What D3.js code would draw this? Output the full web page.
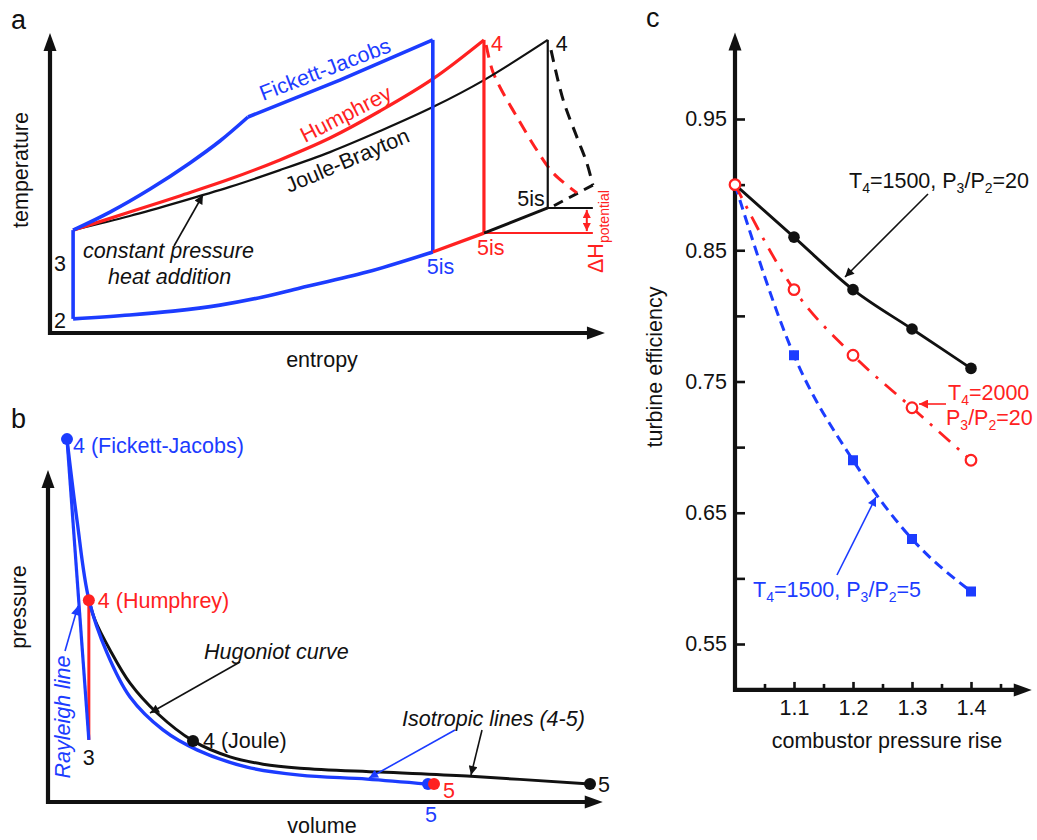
<!DOCTYPE html>
<html>
<head>
<meta charset="utf-8">
<script src="https://cdn.jsdelivr.net/npm/d3@7"></script>
<style>
  html, body { margin: 0; padding: 0; background: #fff; }
  svg { display: block; font-family: "Liberation Sans", Arial, Helvetica, sans-serif; }
</style>
</head>
<body>
<script>
// ---------- panel a: temperature–entropy (arbitrary units) ----------
const tsState2 = [0.42, 0.47];
const tsState3 = [0.42, 3.43];
const tsFickettRise = [[0.42,3.43],[1.09,4.03],[1.82,4.8],[2.545,5.67],[3.09,6.4],[3.6,7.2]];
const tsFickettTop = [[3.6,7.2],[5.27,8.43],[6.96,9.77]];
const tsHumphrey = [[0.42,3.43],[1.45,4.03],[2.36,4.57],[3.27,5.13],[4.18,5.77],[5.09,6.5],[6.0,7.4],[6.96,8.47],[7.89,9.77]];
const tsJoule = [[0.42,3.43],[1.45,3.9],[2.36,4.37],[3.27,4.87],[4.18,5.43],[5.09,6.03],[6.0,6.73],[6.96,7.53],[7.89,8.43],[9.05,9.77]];
const tsRejectFickett = [[0.42,0.47],[1.45,0.6],[2.24,0.73],[3.09,0.93],[3.87,1.2],[4.55,1.5],[5.76,2.03],[6.96,2.7]];
const tsRejectHumphrey = [[6.96,2.7],[7.89,3.33]];
const tsRejectJoule = [[7.89,3.33],[9.05,4.17]];
const tsExpHumphrey = [[7.93,9.6],[8.04,8.77],[8.18,8.2],[8.49,7.2],[8.85,6.1],[9.15,5.33],[9.58,4.67]];
const tsExpJoule = [[9.11,9.43],[9.33,7.77],[9.58,6.53],[9.76,5.67],[9.87,4.93]];
const tsExpJouleEnd = [[9.87,4.93],[9.15,4.23]];
const tsPeakS = [6.96, 7.89, 9.05];      // entropy of state 4: Fickett-Jacobs, Humphrey, Joule
const tsPeakT = 9.77;
const ts5isT = [2.7, 3.33, 4.17];        // temperature of state 5is for each cycle
const tsRefEndS = 9.87;

// ---------- panel b: pressure–volume (arbitrary units) ----------
const pvState3 = [0.74, 1.87];
const pvState4FJ = [0.344, 10.93];
const pvState4H = [0.74, 6.08];
const pvState4J = [2.627, 1.84];
const pvState5FJ = [6.884, 0.54];
const pvState5H = [6.993, 0.54];
const pvState5J = [9.819, 0.54];
const pvIsenFJ = [[0.344,10.93],[0.525,8.49],[0.743,6.08],[1.069,4.49],[1.486,3.16],[2.083,2.17],[2.699,1.57],[3.605,1.05],[4.565,0.81],[5.779,0.69],[6.884,0.54]];
const pvHugoniot = [[0.743,6.08],[0.851,5.48],[1.123,4.58],[1.486,3.58],[1.975,2.68],[2.627,1.84],[3.297,1.36],[3.895,1.14],[4.565,1.02],[6.014,0.90],[7.591,0.78],[9.819,0.54]];

// ---------- panel c: turbine efficiency vs combustor pressure rise ----------
const pressureRise = [1.0, 1.1, 1.2, 1.3, 1.4];
const effT1500PR20 = [0.90, 0.86, 0.82, 0.79, 0.76];
const effT2000PR20 = [0.90, 0.82, 0.77, 0.73, 0.69];
const effT1500PR5  = [0.90, 0.77, 0.69, 0.63, 0.59];
const effTicksMajor = [0.55, 0.65, 0.75, 0.85, 0.95];
const effTicksMinor = [0.60, 0.70, 0.80, 0.90];
const riseTicksMajor = [1.1, 1.2, 1.3, 1.4];
const riseTicksMinor = [1.05, 1.15, 1.25, 1.35, 1.45];

const BLUE = "#1c3cff", RED = "#ff2121", BLACK = "#111";
const FS = 21.5;

const svg = d3.select("body").append("svg").attr("width", 1037).attr("height", 840);

// arrow markers
const defs = svg.append("defs");
function marker(id, color, w, h) {
  defs.append("marker").attr("id", id).attr("viewBox", "0 0 10 10")
    .attr("refX", 10).attr("refY", 5).attr("markerUnits", "userSpaceOnUse")
    .attr("markerWidth", w).attr("markerHeight", h).attr("orient", "auto-start-reverse")
    .append("path").attr("d", "M0,0 L10,5 L0,10 Z").attr("fill", color);
}
marker("arrK", BLACK, 12, 9);
marker("arrB", BLUE, 12, 9);
marker("arrR", RED, 12, 9);
marker("arrRs", RED, 9, 8);

function axisArrow(g, x1, y1, x2, y2) {
  const ang = Math.atan2(y2 - y1, x2 - x1), L = 18, hw = 6.5;
  const bx = x2 - L * Math.cos(ang), by = y2 - L * Math.sin(ang);
  g.append("line").attr("x1", x1).attr("y1", y1).attr("x2", bx + 2 * Math.cos(ang)).attr("y2", by + 2 * Math.sin(ang))
    .attr("stroke", BLACK).attr("stroke-width", 4.2);
  g.append("path").attr("fill", BLACK).attr("d",
    `M${x2},${y2} L${bx - hw * Math.sin(ang)},${by + hw * Math.cos(ang)} L${bx + hw * Math.sin(ang)},${by - hw * Math.cos(ang)} Z`);
}

function label(g, x, y, txt, opts = {}) {
  const t = g.append("text").attr("x", x).attr("y", y).text(txt)
    .attr("fill", opts.color || BLACK).style("font-size", (opts.size || FS) + "px");
  if (opts.anchor) t.attr("text-anchor", opts.anchor);
  if (opts.italic) t.style("font-style", "italic");
  if (opts.rotate !== undefined) t.attr("transform", `rotate(${opts.rotate},${x},${y})`);
  return t;
}

// text with subscripts: parts starting with "_" are subscripts
function subText(g, x, y, parts, color, opts = {}) {
  const size = opts.size || FS, subSize = opts.subSize || 14, shift = opts.shift || 5;
  const t = g.append("text").attr("x", x).attr("y", y).attr("fill", color).style("font-size", size + "px");
  if (opts.rotate !== undefined) t.attr("transform", `rotate(${opts.rotate},${x},${y})`);
  let down = false;
  parts.forEach(p => {
    const isSub = p.startsWith("_");
    const ts = t.append("tspan").text(isSub ? p.slice(1) : p);
    if (isSub) { ts.style("font-size", subSize + "px"); if (!down) { ts.attr("dy", shift); down = true; } }
    else if (down) { ts.attr("dy", -shift); down = false; }
  });
  return t;
}

// ======================= panel a =======================
{
  const g = svg.append("g");
  const sx = d3.scaleLinear().domain([0, 10]).range([50, 600]);
  const sy = d3.scaleLinear().domain([0, 10]).range([333, 33]);
  const smooth = d3.line().x(d => sx(d[0])).y(d => sy(d[1])).curve(d3.curveCatmullRom.alpha(0.5));
  const straight = d3.line().x(d => sx(d[0])).y(d => sy(d[1]));

  axisArrow(g, sx(0), sy(0) + 2, sx(0), sy(10));
  axisArrow(g, sx(0) - 2, sy(0), sx(10.09), sy(0));

  const path = (data, gen, color, w, dash) => {
    const p = g.append("path").attr("d", gen(data)).attr("fill", "none")
      .attr("stroke", color).attr("stroke-width", w).attr("stroke-linejoin", "round");
    if (dash) p.attr("stroke-dasharray", dash);
    return p;
  };

  // dashed real expansions
  path(tsExpJoule, smooth, BLACK, 3, "12,8");
  path(tsExpJouleEnd, straight, BLACK, 3, "10,7");
  path(tsExpHumphrey, smooth, RED, 3, "13,8");

  // reference levels for the potential enthalpy gain
  path([[tsPeakS[2], ts5isT[2]], [tsRefEndS, ts5isT[2]]], straight, BLACK, 2);
  path([[tsPeakS[1], ts5isT[1]], [tsRefEndS, ts5isT[1]]], straight, RED, 2);
  g.append("line").attr("x1", sx(9.76)).attr("x2", sx(9.76))
    .attr("y1", sy(ts5isT[2]) + 2).attr("y2", sy(ts5isT[1]) - 2)
    .attr("stroke", RED).attr("stroke-width", 2)
    .attr("marker-start", "url(#arrRs)").attr("marker-end", "url(#arrRs)");

  // heat addition curves
  path(tsJoule, smooth, BLACK, 2.2);
  path(tsHumphrey, smooth, RED, 3.2);
  path(tsFickettRise, smooth, BLUE, 3.6);
  path(tsFickettTop, straight, BLUE, 3.6);

  // isentropic expansions 4 -> 5is
  path([[tsPeakS[2], tsPeakT], [tsPeakS[2], ts5isT[2]]], straight, BLACK, 2.2);
  path([[tsPeakS[1], tsPeakT], [tsPeakS[1], ts5isT[1]]], straight, RED, 3.2);
  path([[tsPeakS[0], tsPeakT], [tsPeakS[0], ts5isT[0]]], straight, BLUE, 3.6);

  // heat rejection isobar and compression 2 -> 3
  path(tsRejectJoule, straight, BLACK, 3);
  path(tsRejectHumphrey, straight, RED, 3.4);
  path(tsRejectFickett, smooth, BLUE, 3.6);
  path([tsState2, tsState3], straight, BLUE, 3.6);

  // labels
  label(g, 11, 29, "a", { size: 27 });
  label(g, 28, 170, "temperature", { rotate: -90, anchor: "middle" });
  label(g, 322, 367, "entropy", { anchor: "middle" });
  label(g, sx(tsState3[0]) - 19, 271, "3");
  label(g, sx(tsState2[0]) - 19, 328, "2");
  label(g, 263, 101, "Fickett-Jacobs", { color: BLUE, rotate: -21 });
  label(g, 305, 143, "Humphrey", { color: RED, rotate: -27 });
  label(g, 289, 193, "Joule-Brayton", { rotate: -23 });
  label(g, 83, 258, "constant pressure", { italic: true });
  label(g, 108, 284, "heat addition", { italic: true });
  g.append("line").attr("x1", 174).attr("y1", 246).attr("x2", sx(2.78)).attr("y2", sy(4.6))
    .attr("stroke", BLACK).attr("stroke-width", 1.6).attr("marker-end", "url(#arrK)");
  label(g, sx(tsPeakS[1]) + 7, 51, "4", { color: RED });
  label(g, sx(tsPeakS[2]) + 8, 51, "4");
  label(g, sx(tsPeakS[0]) - 6, sy(ts5isT[0]) + 22, "5is", { color: BLUE });
  label(g, sx(tsPeakS[1]) - 7, sy(ts5isT[1]) + 22, "5is", { color: RED });
  label(g, sx(tsPeakS[2]) - 3, sy(ts5isT[2]) - 2, "5is", { anchor: "end" });
  subText(g, 603, 273, ["ΔH", "_potential"], RED, { rotate: -90, shift: 6 });
}

// ======================= panel b =======================
{
  const g = svg.append("g");
  const vx = d3.scaleLinear().domain([0, 10]).range([48, 600]);
  const py = d3.scaleLinear().domain([0, 10]).range([802, 470]);
  const smooth = d3.line().x(d => vx(d[0])).y(d => py(d[1])).curve(d3.curveCatmullRom.alpha(0.5));
  const straight = d3.line().x(d => vx(d[0])).y(d => py(d[1]));

  axisArrow(g, vx(0), py(0) + 2, vx(0), py(10));
  axisArrow(g, vx(0) - 2, py(0), vx(10.05), py(0));

  const path = (data, gen, color, w) => g.append("path").attr("d", gen(data)).attr("fill", "none")
    .attr("stroke", color).attr("stroke-width", w).attr("stroke-linejoin", "round");

  path(pvHugoniot, smooth, BLACK, 3);
  path([pvState3, pvState4H], straight, RED, 3);
  path([pvState3, pvState4FJ], straight, BLUE, 3.2);
  path(pvIsenFJ, smooth, BLUE, 3.4);

  const dot = (p, color) => g.append("circle").attr("cx", vx(p[0])).attr("cy", py(p[1])).attr("r", 6).attr("fill", color);
  dot(pvState4FJ, BLUE);
  dot(pvState4H, RED);
  dot(pvState4J, BLACK);
  dot(pvState5FJ, BLUE);
  dot(pvState5H, RED);
  dot(pvState5J, BLACK);

  label(g, 11, 428, "b", { size: 27 });
  label(g, 26, 607, "pressure", { rotate: -90, anchor: "middle" });
  label(g, 322, 833, "volume", { anchor: "middle" });
  label(g, vx(pvState4FJ[0]) + 6, py(pvState4FJ[1]) + 14, "4 (Fickett-Jacobs)", { color: BLUE });
  label(g, vx(pvState4H[0]) + 9, py(pvState4H[1]) + 8, "4 (Humphrey)", { color: RED });
  label(g, vx(pvState4J[0]) + 10, py(pvState4J[1]) + 7, "4 (Joule)");
  label(g, vx(pvState3[0]), 765, "3", { anchor: "middle" });
  label(g, vx(pvState5H[0]) + 9, 798, "5", { color: RED });
  label(g, vx(pvState5FJ[0]) - 3, 822, "5", { color: BLUE });
  label(g, vx(pvState5J[0]) + 8, 792, "5");
  label(g, 70, 717, "Rayleigh line", { color: BLUE, italic: true, rotate: -90, anchor: "middle" });
  g.append("line").attr("x1", 65).attr("y1", 651).attr("x2", 78).attr("y2", 606)
    .attr("stroke", BLUE).attr("stroke-width", 1.6).attr("marker-end", "url(#arrB)");
  label(g, 204, 659, "Hugoniot curve", { italic: true });
  g.append("line").attr("x1", 240).attr("y1", 662).attr("x2", 150).attr("y2", 713)
    .attr("stroke", BLACK).attr("stroke-width", 1.6).attr("marker-end", "url(#arrK)");
  label(g, 402, 726, "Isotropic lines (4-5)", { italic: true });
  g.append("line").attr("x1", 455).attr("y1", 730).attr("x2", 369).attr("y2", 778)
    .attr("stroke", BLUE).attr("stroke-width", 1.6).attr("marker-end", "url(#arrB)");
  g.append("line").attr("x1", 482).attr("y1", 730).attr("x2", 471).attr("y2", 775)
    .attr("stroke", BLACK).attr("stroke-width", 1.6).attr("marker-end", "url(#arrK)");
}

// ======================= panel c =======================
{
  const g = svg.append("g");
  const x = d3.scaleLinear().domain([1.0, 1.4]).range([735, 971]);
  const y = d3.scaleLinear().domain([0.55, 0.95]).range([644, 119]);
  const x0 = x(1.0), y0 = y(0.515);

  // ticks (inward) via d3 axes
  const yAxis = d3.axisLeft(y).tickValues(effTicksMajor).tickSize(-10).tickPadding(8).tickFormat(d3.format(".2f"));
  const yMinor = d3.axisLeft(y).tickValues(effTicksMinor).tickSize(-10).tickFormat("");
  const xAxis = d3.axisBottom(x).tickValues(riseTicksMajor).tickSize(-8).tickPadding(10).tickFormat(d3.format(".1f"));
  const xMinor = d3.axisBottom(x).tickValues(riseTicksMinor).tickSize(-6).tickFormat("");
  const styleAxis = a => {
    a.select(".domain").remove();
    a.selectAll("line").attr("stroke", BLACK).attr("stroke-width", 2.6);
    a.selectAll("text").attr("fill", BLACK).style("font-size", "21.5px").style("font-family", "inherit");
  };
  g.append("g").attr("transform", `translate(${x0},0)`).call(yAxis).call(styleAxis);
  g.append("g").attr("transform", `translate(${x0},0)`).call(yMinor).call(styleAxis);
  g.append("g").attr("transform", `translate(0,${y0})`).call(xAxis).call(styleAxis);
  g.append("g").attr("transform", `translate(0,${y0})`).call(xMinor).call(styleAxis);

  axisArrow(g, x0, y0 + 2, x0, y(1.016));
  axisArrow(g, x0 - 2, y0, x(1.503), y0);

  const line = vals => d3.line().x((d, i) => x(pressureRise[i])).y(d => y(d)).curve(d3.curveMonotoneX)(vals);

  g.append("path").attr("d", line(effT1500PR5)).attr("fill", "none").attr("stroke", BLUE)
    .attr("stroke-width", 3).attr("stroke-dasharray", "10,6");
  g.append("path").attr("d", line(effT2000PR20)).attr("fill", "none").attr("stroke", RED)
    .attr("stroke-width", 2.8).attr("stroke-dasharray", "15,9,3,9");
  g.append("path").attr("d", line(effT1500PR20)).attr("fill", "none").attr("stroke", BLACK)
    .attr("stroke-width", 2.8);

  g.selectAll(".sq").data(effT1500PR5.slice(1)).join("rect")
    .attr("x", (d, i) => x(pressureRise[i + 1]) - 5).attr("y", d => y(d) - 5)
    .attr("width", 10).attr("height", 10).attr("fill", BLUE);
  g.selectAll(".dk").data(effT1500PR20.slice(1)).join("circle")
    .attr("cx", (d, i) => x(pressureRise[i + 1])).attr("cy", d => y(d)).attr("r", 5.8).attr("fill", BLACK);
  g.selectAll(".oc").data(effT2000PR20).join("circle")
    .attr("cx", (d, i) => x(pressureRise[i])).attr("cy", d => y(d)).attr("r", 5.3)
    .attr("fill", "#fff").attr("stroke", RED).attr("stroke-width", 2.2);

  label(g, 646, 27, "c", { size: 27 });
  label(g, 662, 367, "turbine efficiency", { rotate: -90, anchor: "middle" });
  label(g, 887, 748, "combustor pressure rise", { anchor: "middle" });

  subText(g, 849, 188, ["T", "_4", "=1500, P", "_3", "/P", "_2", "=20"], BLACK);
  g.append("line").attr("x1", 928).attr("y1", 194).attr("x2", 845).attr("y2", 277)
    .attr("stroke", BLACK).attr("stroke-width", 1.6).attr("marker-end", "url(#arrK)");

  subText(g, 948, 400, ["T", "_4", "=2000"], RED);
  subText(g, 946, 425, ["P", "_3", "/P", "_2", "=20"], RED);
  g.append("line").attr("x1", 946).attr("y1", 404).attr("x2", x(1.3) + 7).attr("y2", 404)
    .attr("stroke", RED).attr("stroke-width", 1.6).attr("marker-end", "url(#arrR)");

  subText(g, 753, 597, ["T", "_4", "=1500, P", "_3", "/P", "_2", "=5"], BLUE);
  g.append("line").attr("x1", 837).attr("y1", 575).attr("x2", 876).attr("y2", 497)
    .attr("stroke", BLUE).attr("stroke-width", 1.6).attr("marker-end", "url(#arrB)");
}
</script>
</body>
</html>
